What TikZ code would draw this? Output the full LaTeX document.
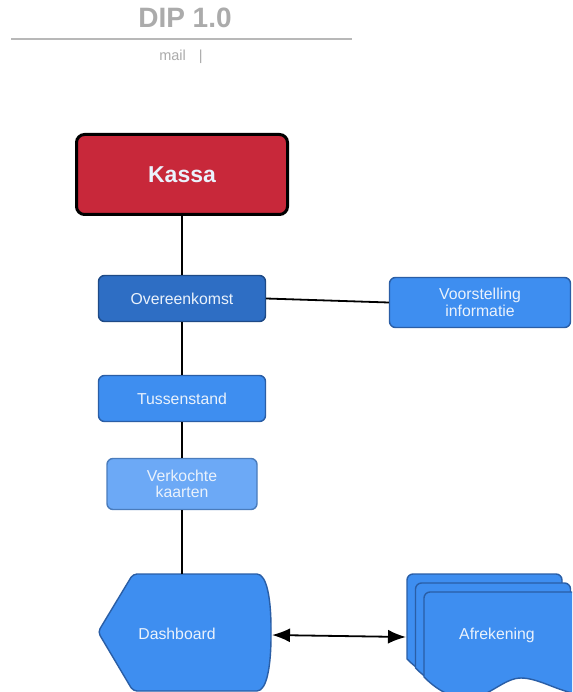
\documentclass[tikz,border=0pt]{standalone}
\usepackage{fontspec}
\setmainfont{Liberation Sans}
\usetikzlibrary{arrows.meta}
\definecolor{kassared}{HTML}{C8283A}
\definecolor{darkblue}{HTML}{2E6EC4}
\definecolor{darkblueline}{HTML}{1E4A86}
\definecolor{midblue}{HTML}{3E8EF0}
\definecolor{midblueline}{HTML}{2A5EA6}
\definecolor{lightblue}{HTML}{6CA9F6}
\definecolor{lightblueline}{HTML}{4A7CBC}
\definecolor{boxtext}{HTML}{EAF2FC}
\definecolor{titlegray}{HTML}{ABABAB}
\definecolor{rulegray}{HTML}{B8B8B8}
\newcommand\docpath{(0,85) -- (0,6) .. controls (0,2.7) and (2.7,0) .. (6,0) -- (149,0) .. controls (152.3,0) and (155,2.7) .. (155,6) -- (155,102) .. controls (135,100) and (115,86) .. (97,86) .. controls (80,86) and (65,105) .. (46,106) .. controls (30,107) and (15,100) .. (0,85) -- cycle}
\begin{document}
\begin{tikzpicture}[x=1pt,y=-1pt,
  rbox/.style={rectangle, rounded corners=6pt, line width=1.4pt, inner sep=0pt, align=center, text=boxtext, font=\fontsize{15.8}{16.5}\selectfont},
  conn/.style={line width=1.8pt, draw=black},
  shapest/.style={fill=midblue, draw=midblueline, line width=1.4pt},
  lbl/.style={inner sep=0pt, text=boxtext, font=\fontsize{15.8}{17}\selectfont}]
\useasboundingbox (0,0) rectangle (572,692);
\clip (0,0) rectangle (572,692);
\fill[white] (0,0) rectangle (572,692);

% header
\node[inner sep=0pt, text=titlegray, font=\bfseries\fontsize{28}{30}\selectfont] (title) at (185,18) {DIP 1.0};
\coordinate (ruleL) at (11,39);
\coordinate (ruleR) at (352,39);
\draw[rulegray, line width=1.5pt] (ruleL) -- (ruleR);
\node[inner sep=0pt, text=titlegray, font=\fontsize{14.5}{16}\selectfont] (mail) at (181,57) {mail\hspace{13pt}|};

% boxes
\node[rectangle, rounded corners=8pt, fill=kassared, draw=black, line width=3pt, minimum width=211pt, minimum height=80pt, inner sep=0pt, text=boxtext, font=\bfseries\fontsize{23}{25}\selectfont] (kassa) at (182,174.5) {Kassa};
\node[rbox, fill=darkblue, draw=darkblueline, minimum width=167pt, minimum height=46pt] (over) at (182,298.5) {Overeenkomst};
\node[rbox, fill=midblue, draw=midblueline, minimum width=181pt, minimum height=50pt] (voor) at (480,302.5) {Voorstelling\\informatie};
\node[rbox, fill=midblue, draw=midblueline, minimum width=167pt, minimum height=46pt] (tuss) at (182,398.5) {Tussenstand};
\node[rbox, fill=lightblue, draw=lightblueline, minimum width=150pt, minimum height=51pt] (verk) at (182,484) {Verkochte\\kaarten};

% Dashboard (display shape)
\path[shapest, rounded corners=4pt] (133,574) -- (253,574) .. controls (267,574) and (271,600) .. (271,632) .. controls (271,665) and (267,691) .. (253,691) -- (133,691) -- (98,632) -- cycle;
\node[lbl] (dash) at (177,634) {Dashboard};
\coordinate (dashT) at (182,574);
\coordinate (dashE) at (272,635);

% Afrekening (multiple documents)
\begin{scope}[shift={(407,574)}]
  \path[shapest] \docpath;
\end{scope}
\begin{scope}[shift={(415.5,583)}]
  \path[shapest] \docpath;
\end{scope}
\begin{scope}[shift={(424,592)}]
  \path[shapest] \docpath;
\end{scope}
\node[lbl] (afr) at (497,635) {Afrekening};
\coordinate (afrW) at (406,637);

% connectors
\draw[conn] (kassa.south) -- (over.north);
\draw[conn] (over.east) -- (voor.west);
\draw[conn] (over.south) -- (tuss.north);
\draw[conn] (tuss.south) -- (verk.north);
\draw[conn] (verk.south) -- (dashT);
\draw[conn, {Latex[length=18pt,width=14pt]}-{Latex[length=18pt,width=14pt]}] (dashE) -- (afrW);
\end{tikzpicture}
\end{document}
